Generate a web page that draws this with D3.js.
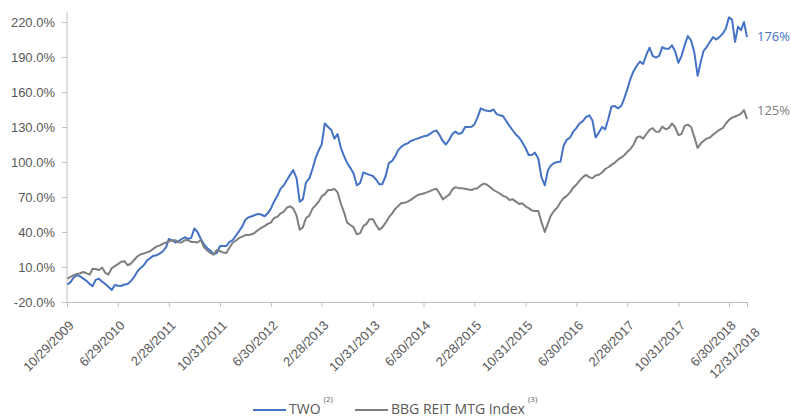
<!DOCTYPE html>
<html>
<head>
<meta charset="utf-8">
<script src="https://cdn.jsdelivr.net/npm/d3@7"></script>
<style>
  html, body { margin: 0; padding: 0; background: #fff; }
  svg { display: block; font-family: 'Open Sans', 'Liberation Sans', sans-serif; }
</style>
</head>
<body>
<svg id="chart" width="791" height="418"></svg>
<script>
// month-end closes, Oct 2009 .. Dec 2018
const months = [
  '2009-10', '2009-11', '2009-12',
  '2010-01', '2010-02', '2010-03', '2010-04', '2010-05', '2010-06', '2010-07', '2010-08', '2010-09', '2010-10', '2010-11', '2010-12',
  '2011-01', '2011-02', '2011-03', '2011-04', '2011-05', '2011-06', '2011-07', '2011-08', '2011-09', '2011-10', '2011-11', '2011-12',
  '2012-01', '2012-02', '2012-03', '2012-04', '2012-05', '2012-06', '2012-07', '2012-08', '2012-09', '2012-10', '2012-11', '2012-12',
  '2013-01', '2013-02', '2013-03', '2013-04', '2013-05', '2013-06', '2013-07', '2013-08', '2013-09', '2013-10', '2013-11', '2013-12',
  '2014-01', '2014-02', '2014-03', '2014-04', '2014-05', '2014-06', '2014-07', '2014-08', '2014-09', '2014-10', '2014-11', '2014-12',
  '2015-01', '2015-02', '2015-03', '2015-04', '2015-05', '2015-06', '2015-07', '2015-08', '2015-09', '2015-10', '2015-11', '2015-12',
  '2016-01', '2016-02', '2016-03', '2016-04', '2016-05', '2016-06', '2016-07', '2016-08', '2016-09', '2016-10', '2016-11', '2016-12',
  '2017-01', '2017-02', '2017-03', '2017-04', '2017-05', '2017-06', '2017-07', '2017-08', '2017-09', '2017-10', '2017-11', '2017-12',
  '2018-01', '2018-02', '2018-03', '2018-04', '2018-05', '2018-06', '2018-07', '2018-08', '2018-09', '2018-10', '2018-11', '2018-12'
]

// cumulative total return at month end, %
const twoValues = [
  -5, 1, 2,
  -2, -6.5, 0, -4.5, -9.7, -6, -5, -2, 6, 11.5, 17.5, 20,
  23.5, 34, 31, 34, 34, 43, 34, 26, 21, 28, 28, 33,
  41, 50.5, 53.5, 55.5, 53.5, 60, 71, 80, 89, 86, 68, 86,
  104, 115, 130, 120, 112, 99, 90, 82, 90, 88, 81, 88,
  101, 110, 115, 118, 120, 122, 124, 127, 118, 119, 126, 125,
  130, 132, 146, 144, 145, 140, 135, 127, 121, 112, 106, 103,
  80, 97, 100, 114, 121, 129, 135, 140, 121, 130, 137, 148,
  148, 162, 178, 186, 192, 191, 191, 197, 200, 185, 200, 204,
  174, 195, 203, 205, 210, 224, 222, 203, 216, 213, 220, 207
]

const reitValues = [
  0, 3, 4.6,
  4.5, 8.5, 7.4, 5, 9, 12.5, 15, 13, 19, 21.5, 23.5, 27.5,
  30, 32, 33, 31, 33, 31.5, 33, 24, 20.5, 23.5, 22, 31,
  35, 37.4, 38, 41.7, 45, 48, 53, 57.5, 62, 54, 44, 54,
  63, 70.5, 76, 77, 64, 48, 44, 39, 47, 51, 42, 48,
  56, 62, 65, 67.5, 71.5, 73, 75, 77, 68, 72, 78.5, 77.5,
  76.5, 77, 80, 80.5, 76, 73, 70, 68, 64, 62, 58.5, 58,
  40, 54, 61, 69, 74, 80.5, 87, 87, 88.5, 91, 95.5, 99.5,
  104, 108.5, 115, 122, 124, 129, 126, 128, 133, 123, 131, 130,
  112, 118, 121, 125.5, 129, 136, 138, 139, 140, 141.5, 144.5, 137
]

// mid-month readings, Nov 2009 .. Jun 2018 (months[1] .. months[104])
const twoMid = [
  -3, 3, 0, -4.5, -1, -2.6, -7, -5.4, -6.3, -4.5,
  1.5, 9, 15.5, 19.5, 21.5, 27, 33, 32, 35.5, 35,
  40, 29.5, 24, 22, 28, 31.5, 37, 45, 52.5, 54.6,
  55, 56, 66, 77, 84.5, 93, 66, 82.5, 94, 110.5,
  133, 127.4, 124, 105, 95, 80, 91, 89, 85, 81,
  99, 105, 113, 116, 119, 121, 122.5, 126, 123, 115,
  124, 124, 130, 130.3, 138, 144.6, 143.5, 141, 139.5, 131,
  123.5, 117, 106, 108, 87, 93, 99, 100.3, 119, 126,
  133, 138.5, 135.5, 125, 128, 147.5, 146, 155, 171, 182.5,
  184, 198, 189.5, 198.5, 197, 195, 191, 208, 194, 186,
  198.5, 207, 207, 214.5
]

const reitMid = [
  1.5, 4, 5.7, 3.5, 8.3, 9.5, 3.5, 10.8, 14.5, 11.5,
  16, 20.7, 22.5, 25.5, 28.3, 31, 32.7, 31.3, 33, 31.5,
  31, 27, 22, 24.5, 22.5, 26.5, 32.5, 36, 37.4, 39.5,
  43.5, 47, 52, 55.8, 61, 60.3, 42, 52, 60, 66.5,
  72.5, 76, 74, 57, 46, 38, 45, 51, 46, 44,
  52.5, 60, 64.6, 66, 69.5, 72.4, 74, 76.3, 73, 70,
  76.5, 77.6, 77, 76, 77.5, 81.5, 78.4, 74.5, 71, 67.4,
  66, 64.6, 60.5, 58, 48.5, 47.4, 58, 65.5, 71, 78,
  84, 89, 86, 89, 94, 97.5, 102, 106, 111, 121,
  120, 127.5, 126, 130.3, 129, 130, 124, 132, 121.5, 116,
  120, 123.5, 127.5, 133
]

const xTickDates = [
  '2009-10-29', '2010-06-29', '2011-02-28', '2011-10-31', '2012-06-30',
  '2013-02-28', '2013-10-31', '2014-06-30', '2015-02-28', '2015-10-31',
  '2016-06-30', '2017-02-28', '2017-10-31', '2018-06-30', '2018-12-31'
]
const yTicks = [-20, 10, 40, 70, 100, 130, 160, 190, 220]

const seriesNames = ['TWO', 'BBG REIT MTG Index']
const seriesNotes = ['(2)', '(3)']
const endLabels = ['176%', '125%']

const BLUE = '#4472c4'
const GRAY = '#7f7f7f'
const AXIS = '#bfbfbf'
const TEXT = '#595959'

const parseMonth = d3.timeParse('%Y-%m')
const parseDay = d3.timeParse('%Y-%m-%d')
const monthEnd = m => d3.timeDay.offset(d3.timeMonth.offset(parseMonth(m), 1), -1)
const monthMid = m => d3.timeDay.offset(parseMonth(m), 14)
const fmtTick = d => `${d.getMonth() + 1}/${d.getDate()}/${d.getFullYear()}`

const tickDates = xTickDates.map(parseDay)
const n = tickDates.length

const svg = d3.select('#chart')

// the last half year is squeezed on the original axis
const x = d3.scaleTime()
  .domain([tickDates[0], tickDates[n - 2], tickDates[n - 1]])
  .range([67, 729, 747])

const y = d3.scaleLinear()
  .domain([-20, 220])
  .range([302, 22])

function toPoints(endVals, midVals) {
  let pts = months.map((m, i) => ({ date: monthEnd(m), value: endVals[i] }))
  midVals.forEach((v, i) => pts.push({ date: monthMid(months[i + 1]), value: v }))
  return pts.sort((a, b) => a.date - b.date)
}

const series = [
  { name: seriesNames[0], color: BLUE, points: toPoints(twoValues, twoMid) },
  { name: seriesNames[1], color: GRAY, points: toPoints(reitValues, reitMid) },
]

// Y axis
const yAxis = svg.append('g')
  .attr('transform', 'translate(67,0)')
  .call(d3.axisLeft(y).tickValues(yTicks).tickSize(5).tickFormat(d => d.toFixed(1) + '%'))
yAxis.select('.domain').remove()
yAxis.append('line')
  .attr('y1', y(228.5))
  .attr('y2', y(-20))
  .attr('stroke', AXIS)
yAxis.selectAll('.tick line').attr('stroke', AXIS)
yAxis.selectAll('.tick text')
  .attr('x', -12)
  .attr('fill', TEXT)
  .style('font-size', '13px')

// X axis
const xAxis = svg.append('g')
  .attr('transform', `translate(0,${y(-20)})`)
  .call(d3.axisBottom(x).tickValues(tickDates).tickSize(5).tickSizeOuter(0).tickFormat(fmtTick))
xAxis.select('.domain').attr('stroke', AXIS)
xAxis.selectAll('.tick line').attr('stroke', AXIS)
xAxis.selectAll('.tick text')
  .attr('fill', TEXT)
  .style('font-size', '13px')
  .attr('text-anchor', 'end')
  .attr('y', 0)
  .attr('dy', '0.35em')
  .attr('transform', (d, i) => i === n - 1 ? 'translate(10,28) rotate(-45)' : 'translate(4,21) rotate(-45)')

// Lines
const line = d3.line()
  .x(d => x(d.date))
  .y(d => y(d.value))

svg.selectAll('path.series')
  .data(series)
  .enter()
  .append('path')
  .attr('class', 'series')
  .attr('fill', 'none')
  .attr('stroke', d => d.color)
  .attr('stroke-width', 2)
  .attr('stroke-linejoin', 'round')
  .attr('d', d => line(d.points))

// End labels
svg.selectAll('text.end-label')
  .data(series)
  .enter()
  .append('text')
  .attr('class', 'end-label')
  .attr('x', 757)
  .attr('y', (d, i) => i === 0 ? 36 : 110)
  .attr('dy', '0.35em')
  .attr('fill', d => d.color)
  .style('font-size', '13px')
  .text((d, i) => endLabels[i])

// Legend
const legend = svg.append('g').attr('class', 'legend')
const legendX = [253, 355]
series.forEach((s, i) => {
  const g = legend.append('g').attr('transform', `translate(${legendX[i]},0)`)
  g.append('line')
    .attr('x1', 0).attr('x2', 33)
    .attr('y1', 410).attr('y2', 410)
    .attr('stroke', s.color)
    .attr('stroke-width', 2)
  const t = g.append('text')
    .attr('x', 36)
    .attr('y', 414)
    .attr('fill', TEXT)
    .style('font-size', '14px')
  t.append('tspan').text(s.name)
  t.append('tspan')
    .attr('dx', 3)
    .attr('dy', -12)
    .style('font-size', '8px')
    .text(seriesNotes[i])
})
</script>
</body>
</html>
